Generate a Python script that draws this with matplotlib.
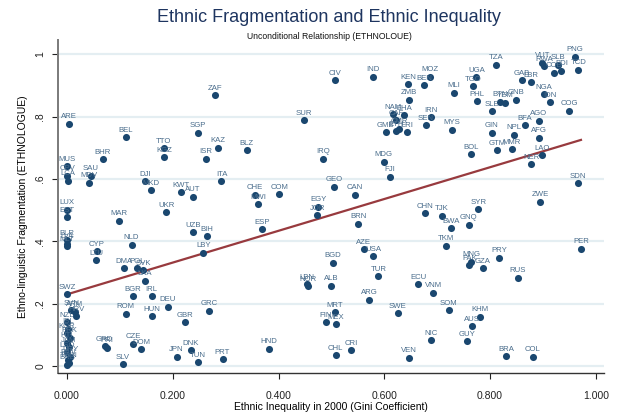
"""Ethnic fragmentation vs ethnic inequality scatter"""

import numpy as np
import matplotlib
matplotlib.use("Agg")
import matplotlib.pyplot as plt

plt.rcParams['font.family'] = ['Liberation Sans', 'DejaVu Sans']

# country code, ethnic inequality (gini), ethno-linguistic fragmentation
codes = [
    'ARE', 'ZAF', 'SGP', 'BEL', 'KAZ', 'TTO', 'KGZ', 'ISR', 'BHR', 'MUS',
    'CPV', 'LCA', 'SAU', 'MDV', 'DJI', 'MKD', 'ITA', 'KWT', 'AUT', 'CIV',
    'IND', 'KEN', 'ZMB', 'SUR', 'BLZ', 'IRQ', 'MDG', 'FJI', 'GEO', 'CAN',
    'CHE', 'COM', 'MWI', 'BEN', 'MOZ', 'MLI', 'UGA', 'TGO', 'PHL', 'NAM',
    'GHA', 'CAF', 'GMB', 'ETH', 'CMR', 'ERI', 'SEN', 'IRN', 'MYS', 'TZA',
    'GAB', 'LBR', 'NGA', 'IDN', 'COG', 'GNB', 'BTN', 'YEM', 'SLE', 'GIN',
    'NPL', 'BFA', 'AGO', 'AFG', 'BOL', 'GTM', 'MMR', 'LAO', 'NER', 'SDN',
    'PNG', 'TCD', 'VUT', 'RWA', 'SLB', 'COD', 'BDI', 'LUX', 'EST', 'MAR',
    'UKR', 'UZB', 'BIH', 'LBY', 'BLR', 'LVA', 'MLT', 'CYP', 'LTU', 'NLD',
    'DMA', 'POL', 'SVK', 'LKA', 'BGR', 'IRL', 'DEU', 'ROM', 'HUN', 'GRC',
    'GBR', 'SWZ', 'SVN', 'ARM', 'HRV', 'NZL', 'ISL', 'KOR', 'PRK', 'HTI',
    'JAM', 'LSO', 'URY', 'PAN', 'TWN', 'BRB', 'GRD', 'PRI', 'CZE', 'DOM',
    'SLV', 'JPN', 'DNK', 'TUN', 'PRT', 'EGY', 'JOR', 'ESP', 'BRN', 'AZE',
    'USA', 'BGD', 'TUR', 'LBN', 'NOR', 'ALB', 'ARG', 'MRT', 'FIN', 'MEX',
    'SWE', 'HND', 'CHL', 'CRI', 'VEN', 'ECU', 'ZWE', 'CHN', 'TJK', 'SYR',
    'BWA', 'GNQ', 'TKM', 'PER', 'PRY', 'MNG', 'PAK', 'GZA', 'RUS', 'VNM',
    'SOM', 'KHM', 'AUS', 'GUY', 'NIC', 'BRA', 'COL',
]
ineq = [
    0.004, 0.280, 0.248, 0.111, 0.285, 0.183, 0.183, 0.262, 0.068, 0.000,
    0.000, 0.002, 0.045, 0.042, 0.147, 0.159, 0.292, 0.216, 0.238, 0.507,
    0.579, 0.645, 0.647, 0.448, 0.340, 0.485, 0.599, 0.611, 0.505, 0.544,
    0.355, 0.401, 0.362, 0.675, 0.686, 0.731, 0.774, 0.768, 0.776, 0.616,
    0.638, 0.622, 0.603, 0.622, 0.628, 0.643, 0.679, 0.689, 0.728, 0.812,
    0.860, 0.878, 0.902, 0.914, 0.950, 0.850, 0.819, 0.829, 0.803, 0.803,
    0.846, 0.866, 0.892, 0.892, 0.764, 0.813, 0.841, 0.898, 0.878, 0.967,
    0.961, 0.967, 0.899, 0.903, 0.929, 0.921, 0.935, 0.000, 0.000, 0.099,
    0.188, 0.239, 0.264, 0.258, 0.000, 0.000, 0.000, 0.056, 0.055, 0.122,
    0.108, 0.132, 0.144, 0.147, 0.124, 0.160, 0.190, 0.111, 0.160, 0.268,
    0.224, 0.000, 0.008, 0.015, 0.017, 0.000, 0.002, 0.000, 0.005, 0.000,
    0.003, 0.000, 0.006, 0.001, 0.004, 0.000, 0.071, 0.075, 0.125, 0.140,
    0.105, 0.207, 0.234, 0.248, 0.294, 0.475, 0.473, 0.369, 0.551, 0.561,
    0.579, 0.503, 0.589, 0.454, 0.456, 0.500, 0.571, 0.507, 0.489, 0.509,
    0.625, 0.382, 0.508, 0.537, 0.646, 0.664, 0.895, 0.677, 0.709, 0.778,
    0.727, 0.760, 0.716, 0.972, 0.817, 0.764, 0.761, 0.786, 0.853, 0.693,
    0.722, 0.781, 0.766, 0.757, 0.688, 0.830, 0.881,
]
frag = [
    0.777, 0.869, 0.748, 0.735, 0.701, 0.699, 0.670, 0.666, 0.663, 0.641,
    0.610, 0.594, 0.610, 0.589, 0.593, 0.565, 0.593, 0.557, 0.543, 0.917,
    0.929, 0.904, 0.854, 0.789, 0.693, 0.666, 0.655, 0.607, 0.575, 0.549,
    0.549, 0.552, 0.519, 0.902, 0.928, 0.877, 0.927, 0.898, 0.850, 0.808,
    0.805, 0.789, 0.750, 0.754, 0.762, 0.750, 0.773, 0.798, 0.758, 0.967,
    0.917, 0.910, 0.872, 0.847, 0.820, 0.854, 0.848, 0.845, 0.818, 0.748,
    0.742, 0.773, 0.787, 0.732, 0.679, 0.693, 0.695, 0.677, 0.647, 0.587,
    0.992, 0.951, 0.974, 0.963, 0.967, 0.942, 0.948, 0.502, 0.477, 0.466,
    0.493, 0.429, 0.417, 0.364, 0.404, 0.393, 0.385, 0.368, 0.340, 0.390,
    0.313, 0.313, 0.308, 0.273, 0.224, 0.224, 0.190, 0.168, 0.160, 0.177,
    0.141, 0.230, 0.179, 0.174, 0.160, 0.140, 0.120, 0.105, 0.090, 0.075,
    0.060, 0.045, 0.030, 0.020, 0.010, 0.004, 0.064, 0.058, 0.071, 0.054,
    0.006, 0.029, 0.050, 0.012, 0.022, 0.511, 0.484, 0.439, 0.456, 0.374,
    0.353, 0.332, 0.288, 0.262, 0.256, 0.257, 0.213, 0.172, 0.140, 0.134,
    0.169, 0.056, 0.034, 0.050, 0.026, 0.263, 0.527, 0.490, 0.482, 0.503,
    0.443, 0.454, 0.386, 0.376, 0.348, 0.334, 0.324, 0.313, 0.283, 0.235,
    0.179, 0.158, 0.127, 0.079, 0.082, 0.032, 0.030,
]

# fitted line
fit_intercept = 0.23
fit_slope = 0.51

navy = '#1a476f'
label_col = '#4a6d8c'

fig = plt.figure(figsize=(6.21, 4.18), dpi=100)
ax = fig.add_axes([0.093, 0.108, 0.880, 0.796])

# grid
for g in np.arange(0, 1.01, 0.2):
    ax.axhline(g, color='#e4eef2', lw=1.6, zorder=0)

x = np.array(ineq)
y = np.array(frag)
ax.scatter(x, y, s=26, color=navy, zorder=3, linewidths=0)
for c, xi, yi in zip(codes, ineq, frag):
    ax.annotate(c, (xi, yi), xytext=(0, 2.5), textcoords='offset points',
                ha='center', va='bottom', fontsize=5.6, color=label_col,
                zorder=4)

# regression line
xs = np.array([x.min(), x.max()])
ax.plot(xs, fit_intercept + fit_slope * xs, color='#983a3e', lw=1.6, zorder=2)

ax.set_xlim(-0.0176, 1.016)
ax.set_ylim(-0.022, 1.046)

ax.set_xticks(np.arange(0, 1.01, 0.2))
ax.set_xticklabels(['%.3f' % v for v in np.arange(0, 1.01, 0.2)])
ax.set_yticks(np.arange(0, 1.01, 0.2))
ax.set_yticklabels(['0', '.2', '.4', '.6', '.8', '1'], rotation=90, va='center')

ax.spines['top'].set_visible(False)
ax.spines['right'].set_visible(False)
ax.spines['left'].set_color('#7a7a7a')
ax.spines['left'].set_linewidth(1.4)
ax.spines['bottom'].set_color('#333333')
ax.spines['bottom'].set_linewidth(1.0)
ax.tick_params(axis='both', labelsize=7.5, length=4, colors='#222222')
ax.tick_params(axis='x', pad=9)
ax.tick_params(axis='y', pad=5)

ax.set_xlabel('Ethnic Inequality in 2000 (Gini Coefficient)', fontsize=7.5,
              labelpad=1)
ax.set_ylabel('Ethno-linguistic Fragmentation (ETHNOLOGUE)', fontsize=7.5,
              labelpad=5)

fig.text(0.53, 0.957, 'Ethnic Fragmentation and Ethnic Inequality',
         ha='center', va='center', fontsize=13, color='#1e3560')
fig.text(0.53, 0.912, 'Unconditional Relationship (ETHNOLOUE)',
         ha='center', va='center', fontsize=6.2, color='#111111')

fig.savefig('out.png', dpi=100)
